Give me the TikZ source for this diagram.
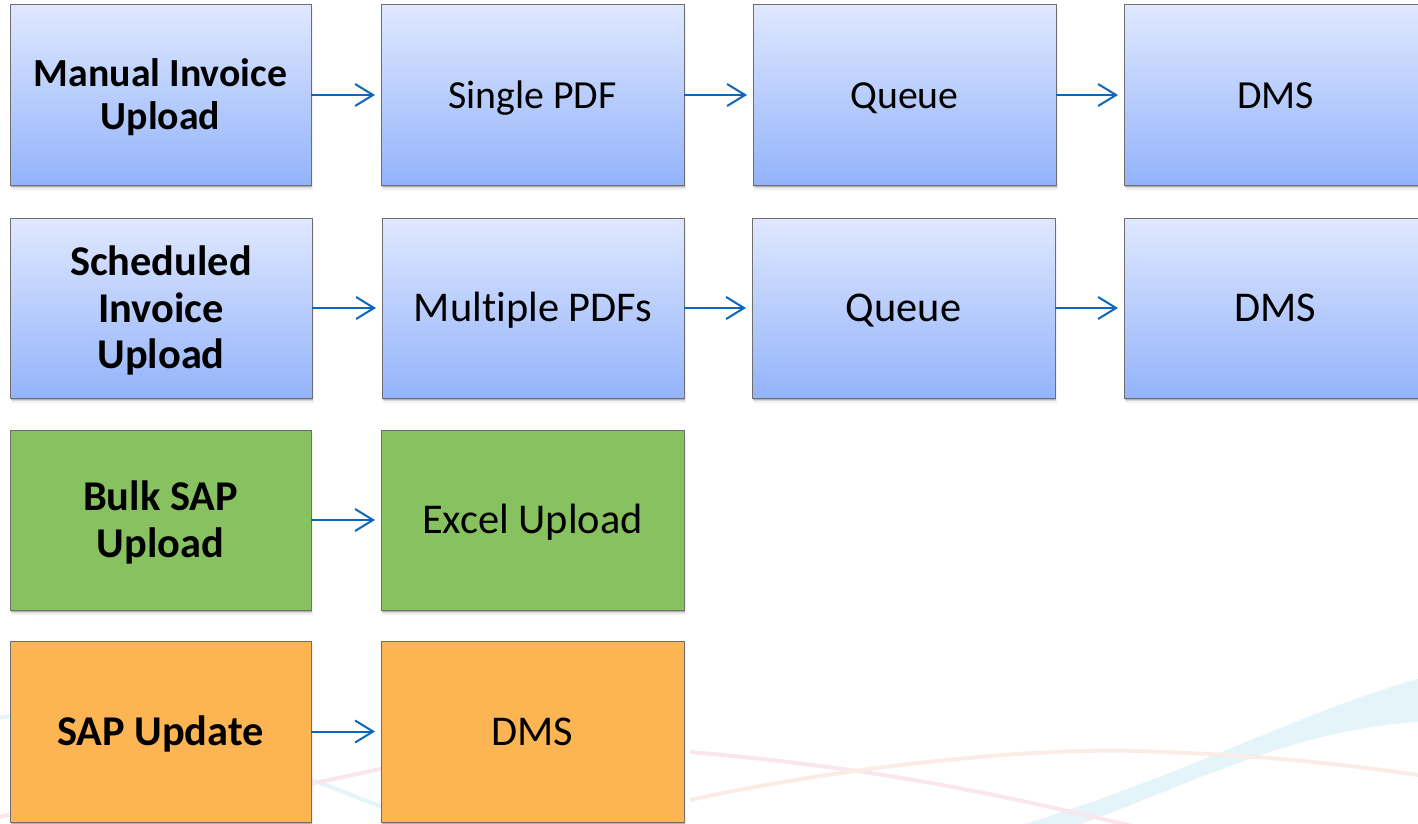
\documentclass[tikz,border=0pt]{standalone}
\usepackage{fontspec}
\setmainfont{Carlito}[Ligatures=CommonOff]
\usetikzlibrary{arrows.meta,shadows}
\definecolor{gtop}{HTML}{DFE8FF}
\definecolor{gbot}{HTML}{93B3FA}
\definecolor{greenfill}{HTML}{88C15F}
\definecolor{orangefill}{HTML}{FCB552}
\definecolor{edgegray}{HTML}{6E6E6E}
\definecolor{arrowblue}{HTML}{0B66BE}
\definecolor{swblue}{HTML}{E5F4F9}
\definecolor{swpink}{HTML}{FBE6EE}
\definecolor{sworange}{HTML}{FBECE6}
\newcommand{\liftline}[1]{\rule{0pt}{#1}}
\newcommand{\lineA}{\rule[-8pt]{0pt}{44pt}}
\newcommand{\lineB}{\rule[-8pt]{0pt}{43pt}}
\tikzset{
  softshadow/.style={
    preaction={draw=none,fill=black,fill opacity=.06,transform canvas={xshift=1.5pt,yshift=-4.5pt}},
    preaction={draw=none,fill=black,fill opacity=.10,transform canvas={xshift=1pt,yshift=-3pt}},
    preaction={draw=none,fill=black,fill opacity=.18,transform canvas={xshift=.5pt,yshift=-1.5pt}}},
  basebox/.style={rectangle,draw=edgegray,line width=1pt,inner sep=0pt,outer sep=0pt,align=center,text=black,softshadow},
  bluebox/.style={basebox,top color=gtop,bottom color=gbot},
  greenbox/.style={basebox,fill=greenfill},
  orangebox/.style={basebox,fill=orangefill},
  flow/.style={draw=arrowblue,line width=2pt,-{Straight Barb[length=18pt,width=22pt,line width=2pt]}},
  fa/.style={font=\fontsize{39.8}{43}\selectfont},
  fb/.style={font=\fontsize{42.4}{46.5}\selectfont},
}
\begin{document}
\begin{tikzpicture}[x=1pt,y=-1pt]
\useasboundingbox (0,0) rectangle (1418,824);
\clip (0,0) rectangle (1418,824);
% background swooshes
\fill[swblue] (1418,679) .. controls (1290,715) and (1190,775) .. (1005,830) -- (1065,830) .. controls (1190,785) and (1290,730) .. (1418,722) -- cycle;
\draw[swpink,line width=4pt] (690,752) .. controls (900,770) and (1020,800) .. (1150,830);
\draw[sworange,line width=4pt] (690,800) .. controls (850,765) and (1050,745) .. (1160,752) .. controls (1260,755) and (1350,765) .. (1418,775);
\draw[swblue,line width=4pt] (300,775) -- (385,808);
\draw[swpink,line width=4pt] (305,785) -- (385,768);
\draw[swblue,line width=4pt] (-5,718) -- (12,716);
\draw[swpink,line width=4pt] (-5,818) -- (12,814);
% row 1
\node[bluebox,minimum width=301pt,minimum height=180pt,fa] (a1) at (160.5,95) {\liftline{33pt}\textbf{Manual Invoice}\\\textbf{Upload}};
\node[bluebox,minimum width=303pt,minimum height=180pt,fa] (b1) at (532.5,95) {\lineA Single PDF};
\node[bluebox,minimum width=303pt,minimum height=180pt,fa] (c1) at (904.5,95) {\lineA Queue};
\node[bluebox,minimum width=303pt,minimum height=180pt,fa] (d1) at (1275.5,95) {\lineA DMS};
\draw[flow] (a1.east) -- ([xshift=-6pt]b1.west);
\draw[flow] (b1.east) -- ([xshift=-6pt]c1.west);
\draw[flow] (c1.east) -- ([xshift=-6pt]d1.west);
% row 2
\node[bluebox,minimum width=302pt,minimum height=180pt,fb] (a2) at (161,308) {\liftline{35pt}\textbf{Scheduled}\\\textbf{Invoice}\\\textbf{Upload}};
\node[bluebox,minimum width=302pt,minimum height=180pt,fb] (b2) at (533,308) {\lineB Multiple PDFs};
\node[bluebox,minimum width=303pt,minimum height=180pt,fb] (c2) at (903.5,308) {\lineB Queue};
\node[bluebox,minimum width=303pt,minimum height=180pt,fb] (d2) at (1275.5,308) {\lineB DMS};
\draw[flow] (a2.east) -- ([xshift=-6pt]b2.west);
\draw[flow] (b2.east) -- ([xshift=-6pt]c2.west);
\draw[flow] (c2.east) -- ([xshift=-6pt]d2.west);
% row 3
\node[greenbox,minimum width=301pt,minimum height=180pt,fb] (a3) at (160.5,520) {\liftline{35pt}\textbf{Bulk SAP}\\\textbf{Upload}};
\node[greenbox,minimum width=303pt,minimum height=180pt,fb] (b3) at (532.5,520) {\lineB Excel Upload};
\draw[flow] (a3.east) -- ([xshift=-6pt]b3.west);
% row 4
\node[orangebox,minimum width=301pt,minimum height=181pt,fb] (a4) at (160.5,731.5) {\lineB\textbf{SAP Update}};
\node[orangebox,minimum width=303pt,minimum height=181pt,fb] (b4) at (532.5,731.5) {\lineB DMS};
\draw[flow] (a4.east) -- ([xshift=-6pt]b4.west);
\end{tikzpicture}
\end{document}
